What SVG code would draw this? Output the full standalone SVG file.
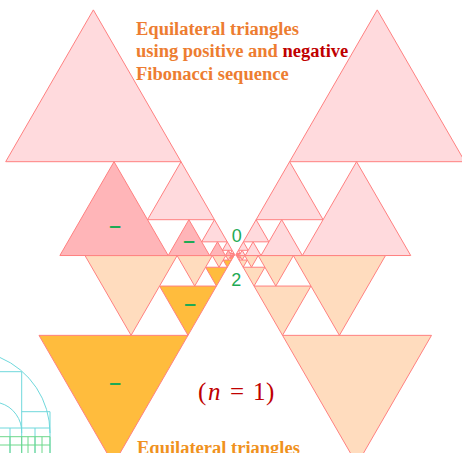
<svg xmlns="http://www.w3.org/2000/svg" width="462" height="453" viewBox="0 0 462 453">
<style>
.t{stroke:#FF8080;stroke-width:1;stroke-linejoin:round}
.lp{fill:#FFDADD}
.dp{fill:#FFB5B8}
.pe{fill:#FFDCBE}
.or{fill:#FFBC3D}
.ttl{font-family:"Liberation Serif","Times New Roman",serif;font-weight:bold;font-size:18.5px;fill:#ED7D31}
.neg{fill:#C00000}
.num{font-family:"Liberation Sans",Arial,sans-serif;font-size:18px;fill:#1EAA55;text-anchor:middle}
.dash{font-family:"Liberation Sans",Arial,sans-serif;font-weight:bold;font-size:21px;fill:#1EAA55;text-anchor:middle}
.cy{fill:none;stroke:#6FD8DC;stroke-width:1}
.gr{fill:none;stroke:#6DD88A;stroke-width:1}
</style>
<rect width="462" height="453" fill="#FFFFFF"/>

<g id="side-figure">
<path class="cy" d="M0,357.5 A82,82 0 0 1 50,433"/>
<path class="cy" d="M0,403 A30,30 0 0 1 21.7,433"/>
<path class="cy" d="M0,371.7 H21.7 V453 M21.7,411.7 H50 V453 M10,428 V453 M0,428 H50 M35,428 V453"/>
<path class="gr" d="M0,436.7 H50 V453 M0,445 H50 M10,436.7 V453 M21.7,436.7 V453 M28,436.7 V453 M35,436.7 V453 M42,436.7 V453"/>
</g>

<g id="upper-left">
<g class="t lp">
<polygon points="5.7,161.7 181,161.7 93.35,9.89"/>
<polygon points="147.52,219.69 214.48,219.69 181,161.7"/>
<polygon points="201.69,241.84 227.27,241.84 214.48,219.69"/>
<polygon points="222.39,250.3 232.16,250.3 227.27,241.84"/>
<polygon points="230.3,253.53 234.03,253.53 232.16,250.3"/>
<polygon points="233.32,254.77 234.74,254.77 234.03,253.53"/>
</g>
<g class="t dp">
<polygon points="59.87,255.53 168.21,255.53 114.04,161.7"/>
<polygon points="168.21,255.53 209.59,255.53 188.9,219.69"/>
<polygon points="209.59,255.53 225.41,255.53 217.5,241.84"/>
<polygon points="225.41,255.53 231.45,255.53 228.43,250.3"/>
<polygon points="231.45,255.53 233.77,255.53 232.61,253.53"/>
<polygon points="233.77,255.53 234.65,255.53 234.2,254.77"/>
</g>
</g>

<g id="upper-right" transform="matrix(-1 0 0 1 470.6 0)">
<g class="t lp">
<polygon points="5.7,161.7 181,161.7 93.35,9.89"/>
<polygon points="147.52,219.69 214.48,219.69 181,161.7"/>
<polygon points="201.69,241.84 227.27,241.84 214.48,219.69"/>
<polygon points="222.39,250.3 232.16,250.3 227.27,241.84"/>
<polygon points="230.3,253.53 234.03,253.53 232.16,250.3"/>
<polygon points="233.32,254.77 234.74,254.77 234.03,253.53"/>
<polygon points="59.87,255.53 168.21,255.53 114.04,161.7"/>
<polygon points="168.21,255.53 209.59,255.53 188.9,219.69"/>
<polygon points="209.59,255.53 225.41,255.53 217.5,241.84"/>
<polygon points="225.41,255.53 231.45,255.53 228.43,250.3"/>
<polygon points="231.45,255.53 233.77,255.53 232.61,253.53"/>
<polygon points="233.77,255.53 234.65,255.53 234.2,254.77"/>
</g>
</g>

<g id="lower-left">
<g class="t or">
<polygon points="39,335.35 188,335.35 113.5,464.39"/>
<polygon points="159.54,286.06 216.46,286.06 188,335.35"/>
<polygon points="205.59,267.23 227.33,267.23 216.46,286.06"/>
<polygon points="223.18,260.04 231.48,260.04 227.33,267.23"/>
<polygon points="229.9,257.29 233.07,257.29 231.48,260.04"/>
<polygon points="232.47,256.24 233.68,256.24 233.07,257.29"/>
</g>
<g class="t pe">
<polygon points="85.04,255.6 177.14,255.6 131.09,335.35"/>
<polygon points="177.12,255.6 212.3,255.6 194.71,286.06"/>
<polygon points="212.31,255.6 225.75,255.6 219.03,267.23"/>
<polygon points="225.75,255.6 230.88,255.6 228.31,260.04"/>
<polygon points="230.88,255.6 232.84,255.6 231.86,257.29"/>
<polygon points="232.84,255.6 233.6,255.6 233.22,256.24"/>
</g>
</g>

<g id="lower-right" transform="matrix(-1 0 0 1 470.5 0)">
<g class="t pe">
<polygon points="39,335.35 188,335.35 113.5,464.39"/>
<polygon points="159.54,286.06 216.46,286.06 188,335.35"/>
<polygon points="205.59,267.23 227.33,267.23 216.46,286.06"/>
<polygon points="223.18,260.04 231.48,260.04 227.33,267.23"/>
<polygon points="229.9,257.29 233.07,257.29 231.48,260.04"/>
<polygon points="232.47,256.24 233.68,256.24 233.07,257.29"/>
<polygon points="85.04,255.6 177.14,255.6 131.09,335.35"/>
<polygon points="177.12,255.6 212.3,255.6 194.71,286.06"/>
<polygon points="212.31,255.6 225.75,255.6 219.03,267.23"/>
<polygon points="225.75,255.6 230.88,255.6 228.31,260.04"/>
<polygon points="230.88,255.6 232.84,255.6 231.86,257.29"/>
<polygon points="232.84,255.6 233.6,255.6 233.22,256.24"/>
</g>
</g>

<g id="labels">
<text class="dash" x="115" y="232">–</text>
<text class="dash" x="189" y="247.4">–</text>
<text class="dash" x="115" y="389">–</text>
<text class="dash" x="190" y="309.7">–</text>
<text class="num" x="236.7" y="242">0</text>
<text class="num" x="236.2" y="286">2</text>
</g>

<g id="title">
<text class="ttl" x="136" y="34.5">Equilateral triangles</text>
<text class="ttl" x="136" y="57">using positive and <tspan class="neg">negative</tspan></text>
<text class="ttl" x="136" y="79.5">Fibonacci sequence</text>
</g>

<g id="formula" font-family="'Liberation Serif','Times New Roman',serif" font-size="25" fill="#C00000">
<text y="400"><tspan x="198">(</tspan><tspan x="208" font-style="italic">n</tspan><tspan x="230">=</tspan><tspan x="253">1</tspan><tspan x="266">)</tspan></text>
</g>

<g id="bottom-title">
<text class="ttl" x="137" y="453.5" style="fill:#F0921E">Equilateral triangles</text>
</g>
</svg>
